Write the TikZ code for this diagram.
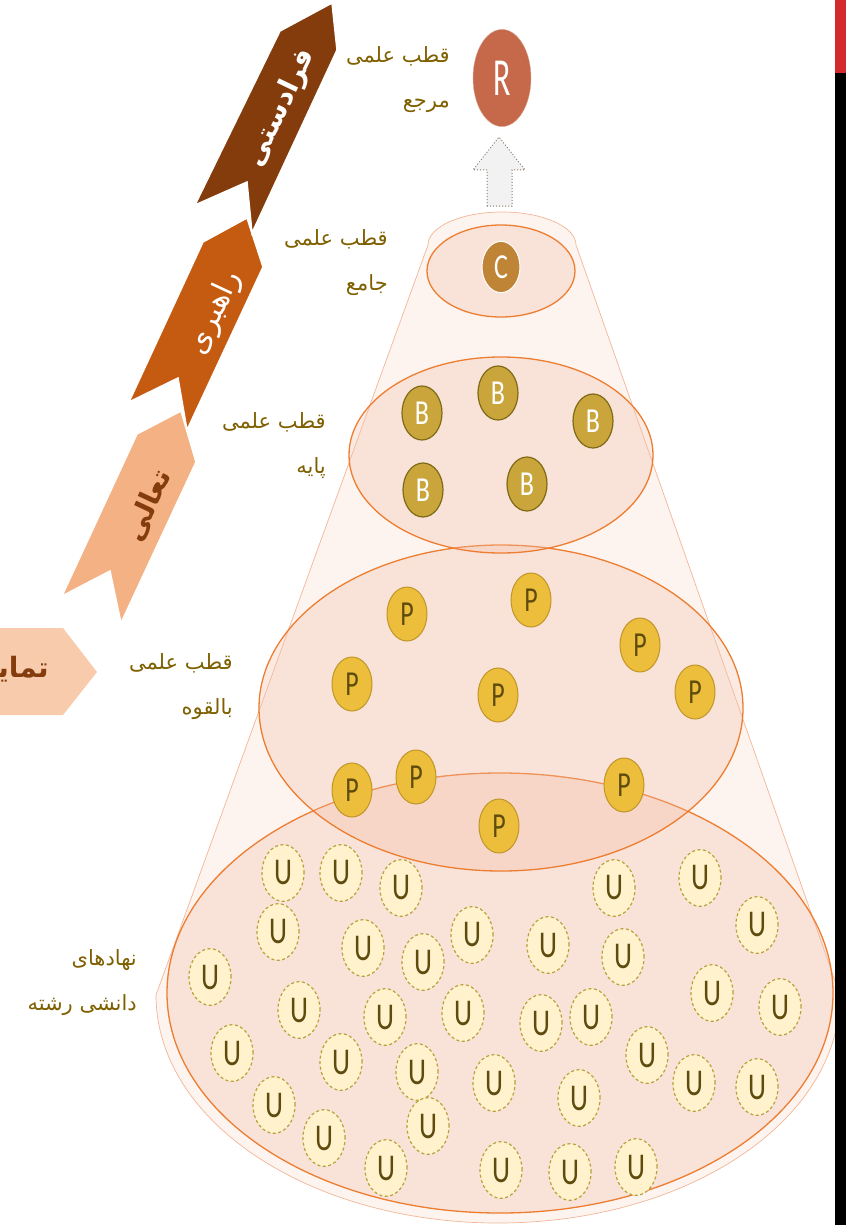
\documentclass[tikz,border=0pt]{standalone}
\usepackage{fontspec}
\setmainfont{Carlito}
\newfontfamily\arabicfont[Script=Arabic]{DejaVu Sans}
\TeXXeTstate=1
\usetikzlibrary{shapes.geometric}
\definecolor{brunfonce}{HTML}{843C0C}
\definecolor{orangefonce}{HTML}{C55A11}
\definecolor{peche}{HTML}{F4B183}
\definecolor{pecheclair}{HTML}{F8CBAD}
\definecolor{olive}{HTML}{7F6000}
\definecolor{conefond}{HTML}{FDF4EF}
\definecolor{conebord}{HTML}{F2B697}
\definecolor{zonefond}{HTML}{F3BFA8}
\definecolor{zonebord}{HTML}{ED7D31}
\definecolor{terre}{HTML}{C5694A}
\definecolor{ocre}{HTML}{BF8436}
\definecolor{dore}{HTML}{C9A53C}
\definecolor{doresombre}{HTML}{7F6A16}
\definecolor{jaune}{HTML}{ECBE3C}
\definecolor{jaunebord}{HTML}{C09628}
\definecolor{creme}{HTML}{FFF2CC}
\definecolor{cremebord}{HTML}{B9A13C}
\definecolor{lettre}{HTML}{5E4B0E}
\definecolor{pointille}{HTML}{8C7B6B}
\definecolor{rougebarre}{HTML}{D42A2E}

\begin{document}
\begin{tikzpicture}[x=1pt,y=-1pt,
  cone/.style={fill=conefond,draw=conebord,line width=0.7pt},
  zone/.style={fill=zonefond,fill opacity=0.33,draw=zonebord,line width=1.3pt},
  polemark/.style={circle,inner sep=0pt,font=\fontsize{26}{26}\selectfont,yscale=1.35},
  rmark/.style={polemark,minimum size=58,fill=terre,draw=terre!60!white,text=white,font=\fontsize{32}{32}\selectfont,yscale=1.24},
  cmark/.style={polemark,minimum size=38,fill=ocre,draw=white,line width=1pt,text=white},
  bmark/.style={polemark,minimum size=40,fill=dore,draw=doresombre,line width=1.2pt,text=white},
  pmark/.style={polemark,minimum size=40,fill=jaune,draw=jaunebord,line width=1pt,text=lettre},
  umark/.style={polemark,minimum size=42,fill=creme,draw=cremebord,line width=1.2pt,dash pattern=on 3pt off 2.5pt,text=lettre,font=\fontsize{28}{28}\selectfont},
  qlabel/.style={font=\arabicfont\fontsize{21}{45}\selectfont,text=olive,align=right,inner sep=0pt,anchor=east},
  ribbon/.style={draw=white,line width=1.5pt},
  ribtext/.style={inner sep=0pt,font=\arabicfont\bfseries\fontsize{28}{28}\selectfont}]
  \useasboundingbox (0,0) rectangle (846,1225);
  % cone
  \path[cone] (428,245) arc[start angle=180,end angle=360,x radius=74,y radius=33]
    -- (840,995) arc[start angle=0,end angle=180,x radius=342,y radius=228] -- cycle;
  % zones
  \draw[zone] (500,993) ellipse [x radius=333,y radius=220];
  \draw[zone] (501,708) ellipse [x radius=242,y radius=163];
  \draw[zone] (501,455) ellipse [x radius=152,y radius=98];
  \draw[zone] (501,271) ellipse [x radius=74,y radius=46];
  % dotted block arrow
  \draw[fill=black!5,draw=pointille,dotted,line width=1pt]
    (487,206) -- (487,170) -- (473,170) -- (499,137) -- (525,170) -- (512,170) -- (512,206) -- cycle;
  % poles
  \node[rmark] (r) at (502,78) {R};
  \node[cmark] (c) at (501,267) {C};
  \foreach \x/\y [count=\i] in {422/413,498/393,593/421,423/490,527/484}
    \node[bmark] (b\i) at (\x,\y) {B};
  \foreach \x/\y [count=\i] in {407/614,531/600,640/645,352/684,498/695,695/692,352/790,416/777,624/785,499/826}
    \node[pmark] (p\i) at (\x,\y) {P};
  \foreach \x/\y [count=\i] in {283/873,341/873,401/888,614/888,700/878,757/925,278/932,363/948,423/962,472/935,548/945,623/957,210/977,299/1010,385/1017,463/1013,541/1023,591/1017,712/993,780/1007,232/1053,341/1062,417/1072,494/1083,579/1098,647/1055,694/1083,757/1087,274/1105,324/1138,428/1126,386/1168,501/1170,570/1172,636/1167}
    \node[umark] (u\i) at (\x,\y) {U};
  % labels
  \node[qlabel] (lref) at (450,80) {\beginR قطب علمی\endR\\\beginR مرجع\endR};
  \node[qlabel] (ljam) at (388,263) {\beginR قطب علمی\endR\\\beginR جامع\endR};
  \node[qlabel] (lpay) at (326,446) {\beginR قطب علمی\endR\\\beginR پایه\endR};
  \node[qlabel] (lbal) at (233,687) {\beginR قطب علمی\endR\\\beginR بالقوه\endR};
  \node[qlabel] (lnah) at (137,983) {\beginR نهادهای\endR\\\beginR دانشی رشته\endR};
  % ribbons
  \fill[pecheclair] (-20,628) -- (63,628) -- (97,672) -- (63,715) -- (-20,715) -- cycle;
  \node[ribtext,text=brunfonce,anchor=east] (ttam) at (49,670) {\beginR تمایز\endR};
  \path[ribbon,fill=peche] (62,596) -- (137,434) -- (181,411) -- (196,462) -- (121,623) -- (110,571) -- cycle;
  \node[ribtext,text=brunfonce,rotate=65] (ttaa) at (148,505) {\beginR تعالی\endR};
  \path[ribbon,fill=orangefonce] (129,402) -- (203,242) -- (247,218) -- (263,267) -- (187,430) -- (178,378) -- cycle;
  \node[ribtext,text=white,font=\arabicfont\fontsize{30}{30}\selectfont,rotate=65] (trah) at (215,313) {\beginR راهبری\endR};
  \path[ribbon,fill=brunfonce] (195,205) -- (280,31) -- (332,3) -- (337,50) -- (252,233) -- (247,182) -- cycle;
  \node[ribtext,text=white,rotate=64.5] (tfar) at (281,108) {\beginR فرادستی\endR};
  % side bar
  \fill[rougebarre] (835,0) rectangle (846,73);
  \fill[black] (835,73) rectangle (846,1225);
\end{tikzpicture}
\end{document}
